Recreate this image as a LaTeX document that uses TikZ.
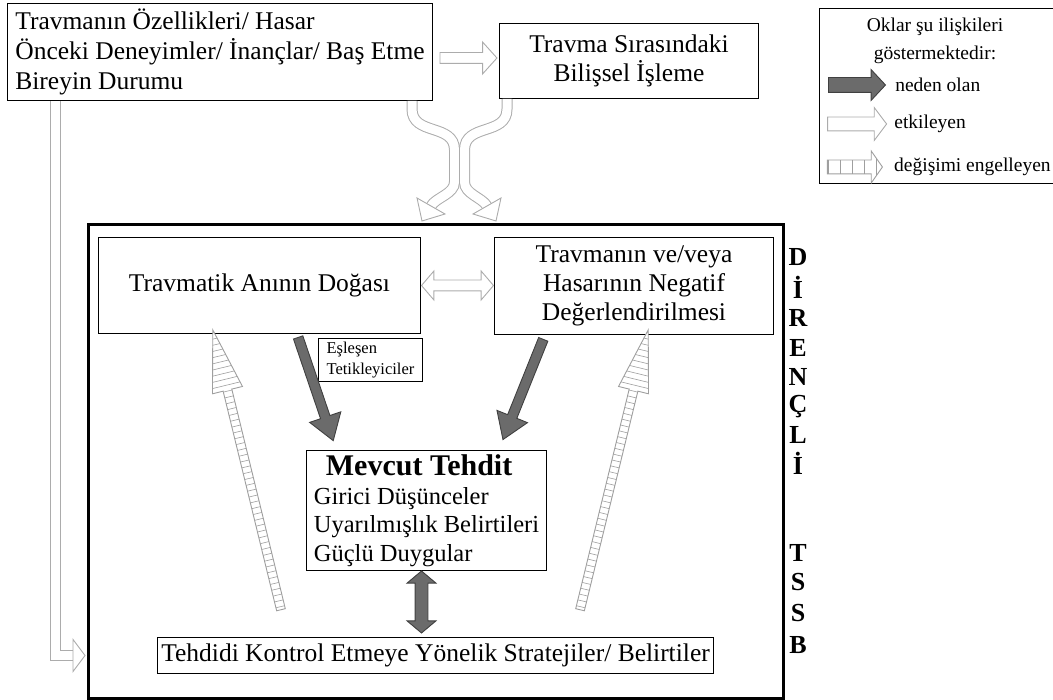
\documentclass[tikz,border=0pt]{standalone}
\usepackage{fontspec}
\setmainfont{Liberation Serif}
\usetikzlibrary{positioning,calc,shapes.arrows}

\tikzset{
  kutu/.style={draw, line width=1pt, inner sep=3pt, anchor=north west,
    font=\fontsize{25.5}{29}\selectfont},
  okbase/.style={inner sep=0pt, minimum width=0pt, text height=#1, text depth=#1, line width=0.9pt},
  yolda/.style={sloped, allow upside down},
  etkileyen/.style={draw=gray!65, fill=white},
  nedenolan/.style={draw=black!75, fill=black!58},
  engelleyen/.style={draw=gray!75, fill=white, path picture={
      \foreach \i in {-50,...,50}
        \draw[gray!75, line width=0.6pt] (\i*#1,-30pt) -- (\i*#1,30pt);}},
  etkicizgi/.style={draw=gray!65, line width=1pt, double=white, double distance=9pt},
  legyazi/.style={font=\fontsize{19.5}{28}\selectfont, inner sep=1pt},
  harf/.style={font=\fontsize{26}{26}\selectfont\bfseries, inner sep=0pt}
}

\begin{document}
\begin{tikzpicture}[x=1pt, y=-1pt]
\useasboundingbox (0,0) rectangle (1053,700);

% kutular
\node[kutu, minimum width=425pt, minimum height=97pt, align=left, font=\fontsize{25.5}{30}\selectfont] (ozellik) at (7,3)
  {Travmanın Özellikleri/ Hasar\\Önceki Deneyimler/ İnançlar/ Baş Etme\\Bireyin Durumu};
\node[kutu, minimum width=259pt, minimum height=75pt, align=center] (bilissel) at (499,23)
  {Travma Sırasındaki\\Bilişsel İşleme};
\node[draw, line width=2.6pt, inner sep=0pt, anchor=north west, minimum width=695pt, minimum height=474pt] (tssb) at (87,223) {};
\node[kutu, minimum width=322pt, minimum height=96pt] (doga) at (98,237) {Travmatik Anının Doğası};
\node[kutu, minimum width=279pt, minimum height=97pt, align=center] (degerlendirme) at (494,237)
  {Travmanın ve/veya\\Hasarının Negatif\\Değerlendirilmesi};
\node[kutu, minimum width=104pt, minimum height=43pt, align=left,
  font=\fontsize{16.5}{21}\selectfont] (tetik) at (318,338) {Eşleşen\\Tetikleyiciler};
\node[kutu, minimum width=240pt, minimum height=120pt, align=left, font=\fontsize{24.5}{28.5}\selectfont] (tehdit) at (306,450)
  {\hspace*{12pt}{\fontsize{30}{30}\selectfont\bfseries Mevcut Tehdit}\\Girici Düşünceler\\Uyarılmışlık Belirtileri\\Güçlü Duygular};
\node[kutu, minimum width=556pt, minimum height=36pt] (strateji) at (157,637)
  {Tehdidi Kontrol Etmeye Yönelik Stratejiler/ Belirtiler};

% DİRENÇLİ TSSB
\foreach \h/\y [count=\n] in {D/257,İ/287,R/318,E/348,N/377,Ç/407,L/435,İ/463,T/553,S/582,S/613,B/645}
  \node[harf] (harf\n) at (798,\y) {\h};

% lejant
\draw[line width=1pt] (1053,9) -- (819,9) -- (819,184) -- (1053,184);
\node[legyazi, align=center] (baslik) at (935,41) {Oklar şu ilişkileri\\göstermektedir:};
\node[single arrow, okbase=7pt, nedenolan, minimum height=57pt,
  single arrow head extend=8pt, single arrow tip angle=94] (lneden) at (853.5,85) {};
\node[legyazi, right=8pt of lneden] (tneden) {neden olan};
\node[single arrow, okbase=6.5pt, etkileyen, minimum height=59pt,
  single arrow head extend=9.5pt, single arrow tip angle=106] (letki) at (854.5,124) {};
\node[legyazi, right=6pt of letki] (tetki) {etkileyen};
\node[single arrow, okbase=6.5pt, engelleyen=12pt, minimum height=55pt,
  single arrow head extend=9pt, single arrow tip angle=110] (lengel) at (852.5,167) {};
\node[legyazi, right=10pt of lengel] (tengel) {değişimi engelleyen};

% etkileyen oklar
\path ($(ozellik.east)+(0,6)$) -- node[single arrow, okbase=5pt, yolda, etkileyen, minimum height=57pt,
  single arrow head extend=10.5pt, single arrow tip angle=96] (ok1) {} ($(ozellik.east -| bilissel.west)+(0,6)$);

\draw[etkicizgi] ($(ozellik.south east)+(-21,0)$) -- ++(0,8) .. controls +(0,27) and +(0,-27) .. (454.5,150)
  -- (454.5,182) .. controls +(0,12) and (436,197.4) .. (431,206);
\draw[etkicizgi] ($(bilissel.south west)+(8,0)$) -- ++(0,10) .. controls +(0,27) and +(0,-27) .. (464.5,150)
  -- (464.5,182) .. controls +(0,12) and (482,197.4) .. (487,206);
\draw[etkileyen, line width=0.9pt] (417,198) -- (422,221) -- (445,214) -- cycle;
\draw[etkileyen, line width=0.9pt] (501,198) -- (496,221) -- (473,214) -- cycle;

\coordinate (giris) at ($(tssb.west |- strateji.west)+(-14,0)$);
\draw[etkicizgi] ($(ozellik.south west)+(48,0)$) |- (giris);
\draw[etkileyen, line width=0.9pt] (giris) ++(0,-16) -- ++(12,16) -- ++(-12,16) -- cycle;

\path (doga.east) -- node[double arrow, okbase=5pt, yolda, etkileyen, minimum height=72pt,
  double arrow head extend=9pt, double arrow tip angle=99] (ok2) {} (doga.east -| degerlendirme.west);

% neden olan oklar
\path ($(doga.south west)+(199,0)$) -- node[single arrow, okbase=4.5pt, yolda, nedenolan, minimum height=109pt,
  single arrow head extend=11.5pt, single arrow tip angle=67] (ok3) {} ($(tehdit.north west)+(26,-13)$);
\path ($(degerlendirme.south west)+(51,0)$) -- node[single arrow, okbase=4.5pt, yolda, nedenolan, minimum height=108pt,
  single arrow head extend=11.5pt, single arrow tip angle=67] (ok4) {} ($(tehdit.north east)+(-43,-13)$);
\path ($(tehdit.south)+(-5,1)$) -- node[double arrow, okbase=6pt, yolda, nedenolan, minimum height=62pt,
  double arrow head extend=8pt, double arrow tip angle=100] (ok5) {} ($(tehdit.south |- strateji.north)+(-5,-5)$);

% degisimi engelleyen oklar
\path ($(strateji.north west)+(126,-19)$) -- node[single arrow, okbase=4pt, yolda, engelleyen=6pt, minimum height=288pt,
  single arrow head extend=11pt, single arrow tip angle=28] (ok6) {} ($(doga.south west)+(117,5)$);
\path ($(strateji.north west)+(421,-19)$) -- node[single arrow, okbase=4pt, yolda, engelleyen=6pt, minimum height=288pt,
  single arrow head extend=11pt, single arrow tip angle=28] (ok7) {} ($(degerlendirme.south west)+(152,4)$);
\end{tikzpicture}
\end{document}
